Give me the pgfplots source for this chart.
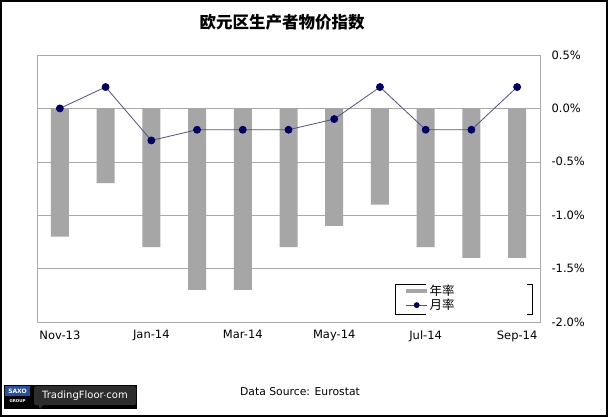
\documentclass[border=0pt]{standalone}
\usepackage{pgfplots}
\pgfplotsset{compat=1.18}
\usepackage{fontspec}
\setmainfont{DejaVu Sans}
\newfontfamily\cjk{Noto Sans CJK SC}
\definecolor{barGray}{RGB}{166,166,166}
\definecolor{lineBlue}{RGB}{80,80,140}
\definecolor{navy}{RGB}{0,0,102}
\definecolor{gridGray}{RGB}{170,170,170}
\definecolor{saxoBlue}{RGB}{40,80,160}
\definecolor{tfGray}{RGB}{45,45,45}
\begin{document}
\begin{tikzpicture}
\useasboundingbox (0pt,0pt) rectangle (608pt,-417pt);
\fill[white] (0pt,0pt) rectangle (608pt,-417pt);
\draw[black, line width=2pt] (1pt,-1pt) rectangle (607pt,-416pt);
\node[font=\cjk\bfseries\fontsize{16.5}{18}\selectfont] at (282pt,-22pt) {欧元区生产者物价指数};
\begin{axis}[
  at={(37pt,-322pt)}, anchor=south west,
  width=503pt, height=267pt, scale only axis,
  xmin=-0.5, xmax=10.5, ymin=-2, ymax=0.5,
  axis line style={draw=gridGray},
  ytick={-2,-1.5,-1,-0.5,0,0.5},
  ymajorgrids, grid style={gridGray, line width=0.6pt},
  yticklabel pos=right,
  /pgf/number format/assume math mode=true,
  yticklabel={\pgfmathprintnumber[fixed,fixed zerofill,precision=1]{\tick}\%},
  xtick={0,2,4,6,8,10},
  xticklabels={Nov-13,Jan-14,Mar-14,May-14,Jul-14,Sep-14},
  major tick length=0pt,
  tick label style={font=\fontsize{11.5}{13}\selectfont},
  yticklabel style={anchor=west, xshift=8pt},
  xticklabel style={yshift=-5pt},
  legend style={at={(0.7276,0.145)}, anchor=north west, draw=none, fill=none,
    font=\cjk\fontsize{12.5}{13}\selectfont, inner sep=0.5pt, row sep=0pt,
    nodes={inner sep=1pt}},
  legend cell align=left,
]
\addplot[ybar, bar width=18pt, fill=barGray, draw=none,
  legend image code/.code={\draw[line width=4pt, barGray] (0pt,0pt) -- (21pt,0pt);}]
  coordinates {(0,-1.2) (1,-0.7) (2,-1.3) (3,-1.7) (4,-1.7) (5,-1.3) (6,-1.1) (7,-0.9) (8,-1.3) (9,-1.4) (10,-1.4)};
\addlegendentry{年率}
\addplot[lineBlue, line width=0.8pt, mark=*, mark size=3.5pt,
  mark options={fill=navy, draw=navy},
  legend image code/.code={\draw[lineBlue, line width=0.8pt] (0pt,0pt) -- (21pt,0pt); \fill[navy] (11pt,0pt) circle (2.5pt);}]
  coordinates {(0,0) (1,0.2) (2,-0.3) (3,-0.2) (4,-0.2) (5,-0.2) (6,-0.1) (7,0.2) (8,-0.2) (9,-0.2) (10,0.2)};
\addlegendentry{月率}
\end{axis}
% legend frame (bracket style as in the reference)
\draw[black, line width=0.8pt] (426pt,-284pt) -- (395pt,-284pt) -- (395pt,-314pt) -- (426pt,-314pt);
\draw[black, line width=0.8pt] (527pt,-284pt) -- (532pt,-284pt) -- (532pt,-314pt) -- (527pt,-314pt);
\node[font=\fontsize{10.8}{12}\selectfont] at (300pt,-392pt) {Data Source: Eurostat};
% logo
\fill[black] (4pt,-385pt) rectangle (137pt,-409pt);
\fill[saxoBlue] (5pt,-386pt) rectangle (30pt,-396pt);
\node[text=white, font=\bfseries\fontsize{6}{6}\selectfont, inner sep=0pt] at (17.5pt,-391pt) {SAXO};
\node[text=white, font=\bfseries\fontsize{4}{4}\selectfont, inner sep=0pt] at (17.5pt,-401pt) {GROUP};
\fill[tfGray, rounded corners=1.5pt] (34pt,-386pt) rectangle (136pt,-405pt);
\fill[tfGray] (38pt,-404pt) -- (44pt,-404pt) -- (40pt,-409pt) -- cycle;
\node[text=white, font=\fontsize{10}{11}\selectfont, inner sep=0pt] at (85pt,-395.5pt) {TradingFloor$\cdot$com};
\end{tikzpicture}
\end{document}
